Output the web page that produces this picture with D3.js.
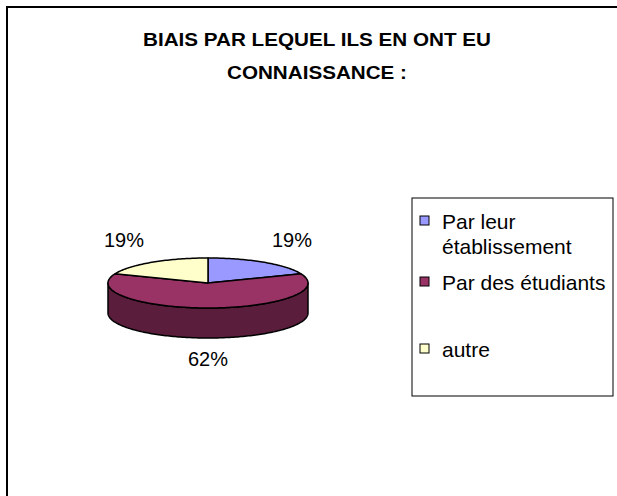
<!DOCTYPE html>
<html>
<head>
<meta charset="utf-8">
<script src="https://cdn.jsdelivr.net/npm/d3@7"></script>
<style>
  html, body { margin: 0; background: #fff; overflow: hidden; }
  svg { display: block; }
  text { font-family: "Liberation Sans", Arial, sans-serif; }
</style>
</head>
<body>
<script>
var categories = ["Par leur établissement", "Par des étudiants", "autre"],
    values = [19, 62, 19],
    labels = ["19%", "62%", "19%"],
    legendLines = [["Par leur", "établissement"], ["Par des étudiants"], ["autre"]],
    titleLines = ["BIAIS PAR LEQUEL ILS EN ONT EU", "CONNAISSANCE :"];

var colors = ["#9999ff", "#993366", "#ffffcc"];

var outerWidth = 617, outerHeight = 496;

var svg = d3.select("body").append("svg").attr("width", outerWidth).attr("height", outerHeight);

// chart frame: only left and top edges fall inside the picture
svg.append("path").attr("d", "M7," + (outerHeight + 5) + "V7H" + (outerWidth + 5))
  .attr("fill", "none").attr("stroke", "#000").attr("stroke-width", 2);

// title
svg.selectAll("text.title").data(titleLines).enter().append("text")
  .attr("class", "title")
  .attr("x", 317).attr("y", function (d, i) { return 46 + i * 33; })
  .attr("text-anchor", "middle").attr("font-weight", "bold").attr("font-size", 18)
  .attr("textLength", function (d, i) { return i == 0 ? 348 : 180; })
  .attr("lengthAdjust", "spacingAndGlyphs")
  .text(function (d) { return d; });

// 3d pie
var cx = 208, cy = 283, rx = 100, ry = 25, depth = 30;
var pie = d3.pie().sort(null).startAngle(0).endAngle(2 * Math.PI);
var arcs = pie(values);

function pt(a, dy) { return [cx + rx * Math.sin(a), cy - ry * Math.cos(a) + (dy || 0)]; }
function arcPts(a0, a1, dy) {
  var n = Math.max(2, Math.ceil((a1 - a0) / 0.02));
  return d3.range(n + 1).map(function (i) { return pt(a0 + (a1 - a0) * i / n, dy); });
}
var line = d3.line();

var pieG = svg.append("g");

// side walls: only the front half (90deg..270deg) shows
arcs.forEach(function (d, i) {
  var a0 = Math.max(d.startAngle, Math.PI / 2), a1 = Math.min(d.endAngle, 3 * Math.PI / 2);
  if (a1 <= a0) return;
  var top = arcPts(a0, a1, 0), bottom = arcPts(a0, a1, depth).reverse();
  pieG.append("path").attr("d", line(top.concat(bottom)) + "Z")
    .attr("fill", d3.color(colors[i]).darker(1.5))
    .attr("stroke", "#000").attr("stroke-width", 1.5).attr("stroke-linejoin", "round");
});

// top faces
arcs.forEach(function (d, i) {
  var pts = [[cx, cy]].concat(arcPts(d.startAngle, d.endAngle, 0));
  pieG.append("path").attr("d", line(pts) + "Z")
    .attr("fill", colors[i])
    .attr("stroke", "#000").attr("stroke-width", 1.5).attr("stroke-linejoin", "round");
});

// percentage labels
var labelPos = [[292, 247], [208, 366], [124, 247]];
svg.selectAll("text.pct").data(labels).enter().append("text")
  .attr("class", "pct")
  .attr("x", function (d, i) { return labelPos[i][0]; })
  .attr("y", function (d, i) { return labelPos[i][1]; })
  .attr("text-anchor", "middle").attr("font-size", 20)
  .text(function (d) { return d; });

// legend
var legend = svg.append("g");
legend.append("rect").attr("x", 412).attr("y", 198).attr("width", 201).attr("height", 198)
  .attr("fill", "#fff").attr("stroke", "#000").attr("stroke-width", 1);

var itemY = [229, 290, 357];
categories.forEach(function (c, i) {
  legend.append("rect").attr("x", 420).attr("y", itemY[i] - 13).attr("width", 9).attr("height", 9)
    .attr("fill", colors[i]).attr("stroke", "#000").attr("stroke-width", 1);
  legend.append("text").attr("x", 442).attr("y", itemY[i]).attr("font-size", 21)
    .selectAll("tspan").data(legendLines[i]).enter().append("tspan")
    .attr("x", 442).attr("dy", function (d, j) { return j == 0 ? 0 : 25; })
    .text(function (d) { return d; });
});
</script>
</body>
</html>
